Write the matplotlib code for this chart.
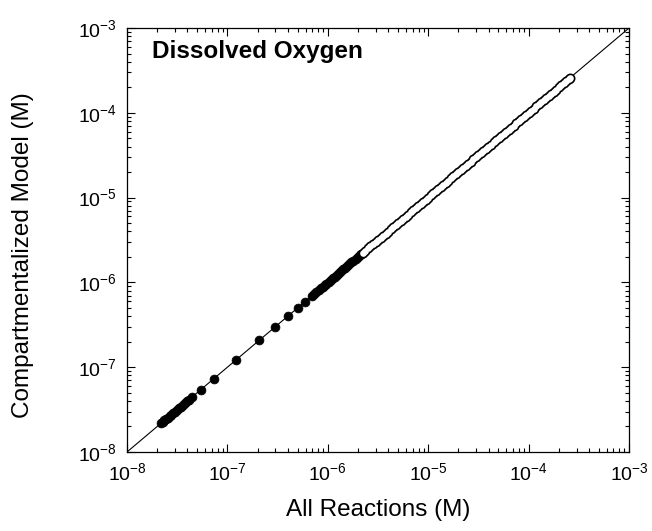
import matplotlib
matplotlib.use("Agg")
import matplotlib.pyplot as plt

plt.rcParams['font.family'] = ['Liberation Sans', 'DejaVu Sans']

# Axis range (M)
axis_limits = [1e-8, 1e-3]

# Filled points: All Reactions (x) vs Compartmentalized Model (y), M
all_filled = [2.20e-8, 2.28e-8, 2.36e-8, 2.45e-8, 2.55e-8, 2.65e-8, 2.76e-8, 2.88e-8,
              3.00e-8, 3.13e-8, 3.27e-8, 3.42e-8, 3.58e-8, 3.75e-8, 3.95e-8, 4.15e-8,
              4.40e-8, 5.40e-8, 7.30e-8, 1.21e-7, 2.08e-7, 3.00e-7, 4.00e-7, 5.00e-7,
              5.95e-7, 6.90e-7, 7.30e-7, 7.70e-7, 8.10e-7, 8.50e-7, 8.90e-7, 9.30e-7,
              9.70e-7, 1.02e-6, 1.07e-6, 1.12e-6, 1.17e-6, 1.23e-6, 1.29e-6, 1.35e-6,
              1.42e-6, 1.49e-6, 1.56e-6, 1.64e-6, 1.72e-6, 1.80e-6, 1.89e-6, 1.98e-6,
              2.08e-6, 2.15e-6]
comp_filled = [2.20e-8, 2.28e-8, 2.36e-8, 2.45e-8, 2.55e-8, 2.65e-8, 2.76e-8, 2.88e-8,
               3.00e-8, 3.13e-8, 3.27e-8, 3.42e-8, 3.58e-8, 3.75e-8, 3.95e-8, 4.15e-8,
               4.40e-8, 5.40e-8, 7.30e-8, 1.21e-7, 2.08e-7, 3.00e-7, 4.00e-7, 5.00e-7,
               5.95e-7, 6.90e-7, 7.30e-7, 7.70e-7, 8.10e-7, 8.50e-7, 8.90e-7, 9.30e-7,
               9.70e-7, 1.02e-6, 1.07e-6, 1.12e-6, 1.17e-6, 1.23e-6, 1.29e-6, 1.35e-6,
               1.42e-6, 1.49e-6, 1.56e-6, 1.64e-6, 1.72e-6, 1.80e-6, 1.89e-6, 1.98e-6,
               2.08e-6, 2.15e-6]

# Open points (M)
all_open = [2.24e-6, 2.37e-6, 2.51e-6, 2.66e-6, 2.82e-6, 2.99e-6, 3.16e-6, 3.35e-6,
            3.55e-6, 3.76e-6, 3.98e-6, 4.22e-6, 4.47e-6, 4.73e-6, 5.01e-6, 5.31e-6,
            5.62e-6, 5.96e-6, 6.31e-6, 6.68e-6, 7.08e-6, 7.50e-6, 7.94e-6, 8.41e-6,
            8.91e-6, 9.44e-6, 1.00e-5, 1.06e-5, 1.12e-5, 1.19e-5, 1.26e-5, 1.33e-5,
            1.41e-5, 1.50e-5, 1.58e-5, 1.68e-5, 1.78e-5, 1.88e-5, 2.00e-5, 2.11e-5,
            2.24e-5, 2.37e-5, 2.51e-5, 2.66e-5, 2.82e-5, 2.99e-5, 3.16e-5, 3.35e-5,
            3.55e-5, 3.76e-5, 3.98e-5, 4.22e-5, 4.47e-5, 4.73e-5, 5.01e-5, 5.31e-5,
            5.62e-5, 5.96e-5, 6.31e-5, 6.68e-5, 7.08e-5, 7.50e-5, 7.94e-5, 8.41e-5,
            8.91e-5, 9.44e-5, 1.00e-4, 1.06e-4, 1.12e-4, 1.19e-4, 1.26e-4, 1.33e-4,
            1.41e-4, 1.50e-4, 1.58e-4, 1.68e-4, 1.78e-4, 1.88e-4, 2.00e-4, 2.11e-4,
            2.24e-4, 2.37e-4, 2.51e-4, 2.60e-4]
comp_open = [2.24e-6, 2.37e-6, 2.51e-6, 2.66e-6, 2.82e-6, 2.99e-6, 3.16e-6, 3.35e-6,
             3.55e-6, 3.76e-6, 3.98e-6, 4.22e-6, 4.47e-6, 4.73e-6, 5.01e-6, 5.31e-6,
             5.62e-6, 5.96e-6, 6.31e-6, 6.68e-6, 7.08e-6, 7.50e-6, 7.94e-6, 8.41e-6,
             8.91e-6, 9.44e-6, 1.00e-5, 1.06e-5, 1.12e-5, 1.19e-5, 1.26e-5, 1.33e-5,
             1.41e-5, 1.50e-5, 1.58e-5, 1.68e-5, 1.78e-5, 1.88e-5, 2.00e-5, 2.11e-5,
             2.24e-5, 2.37e-5, 2.51e-5, 2.66e-5, 2.82e-5, 2.99e-5, 3.16e-5, 3.35e-5,
             3.55e-5, 3.76e-5, 3.98e-5, 4.22e-5, 4.47e-5, 4.73e-5, 5.01e-5, 5.31e-5,
             5.62e-5, 5.96e-5, 6.31e-5, 6.68e-5, 7.08e-5, 7.50e-5, 7.94e-5, 8.41e-5,
             8.91e-5, 9.44e-5, 1.00e-4, 1.06e-4, 1.12e-4, 1.19e-4, 1.26e-4, 1.33e-4,
             1.41e-4, 1.50e-4, 1.58e-4, 1.68e-4, 1.78e-4, 1.88e-4, 2.00e-4, 2.11e-4,
             2.24e-4, 2.37e-4, 2.51e-4, 2.60e-4]

title_text = "Dissolved Oxygen"
x_label = "All Reactions (M)"
y_label = "Compartmentalized Model (M)"

fig = plt.figure(figsize=(6.52, 5.31), dpi=100)
ax = fig.add_axes([0.1948, 0.1488, 0.770, 0.7985])
ax.set_xscale('log')
ax.set_yscale('log')
ax.set_xlim(axis_limits)
ax.set_ylim(axis_limits)

# 1:1 line
ax.plot(axis_limits, axis_limits, color='black', lw=0.8, zorder=1)

ax.plot(all_filled, comp_filled, linestyle='none', marker='o', ms=6.4,
        mfc='black', mec='black', mew=0.5, zorder=3)
# open circles: all black outlines first, then all white interiors on top
ax.plot(all_open, comp_open, linestyle='none', marker='o', ms=7.2,
        mfc='black', mec='none', zorder=3)
ax.plot(all_open, comp_open, linestyle='none', marker='o', ms=4.8,
        mfc='white', mec='none', zorder=4)

ax.text(0.05, 0.929, title_text, transform=ax.transAxes, fontsize=17.5,
        fontweight='bold', ha='left', va='baseline')

ax.set_xlabel(x_label, fontsize=17.5, labelpad=11)
ax.set_ylabel(y_label, fontsize=17.5)
ax.yaxis.set_label_coords(-0.185, 0.465)

ax.tick_params(which='both', direction='in', top=True, right=True, width=0.8)
ax.tick_params(which='major', length=6, labelsize=14, pad=7)
ax.tick_params(which='minor', length=3)
for s in ax.spines.values():
    s.set_linewidth(0.9)

fig.savefig('out.png', dpi=100)
